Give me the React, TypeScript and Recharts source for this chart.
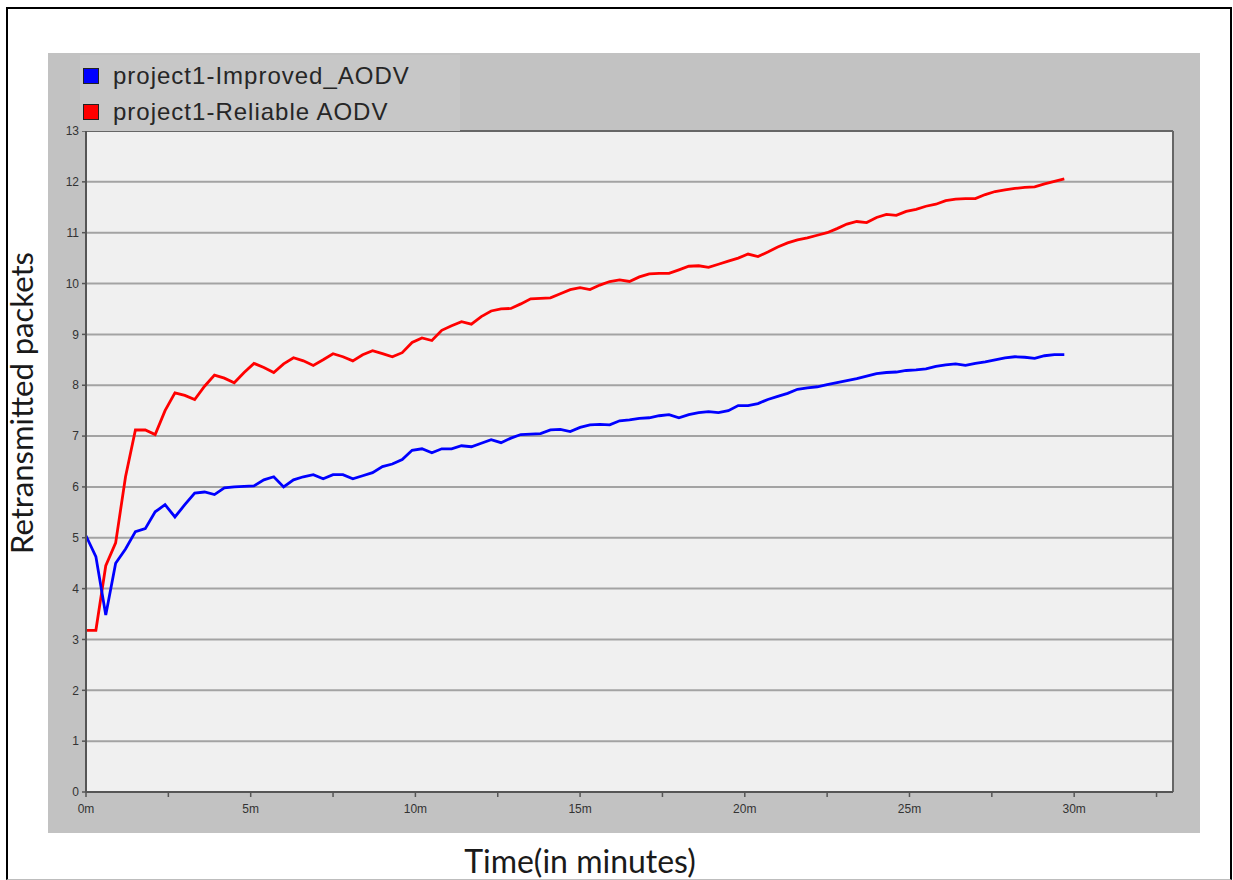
import React from 'react';
import { LineChart, Line, XAxis, YAxis, CartesianGrid, ReferenceLine } from 'recharts';

// Time in minutes
const times = [
  0, 0.3, 0.6, 0.9, 1.2, 1.5, 1.8, 2.1, 2.4, 2.7,
  3.0, 3.3, 3.6, 3.9, 4.2, 4.5, 4.8, 5.1, 5.4, 5.7,
  6.0, 6.3, 6.6, 6.9, 7.2, 7.5, 7.8, 8.1, 8.4, 8.7,
  9.0, 9.3, 9.6, 9.9, 10.2, 10.5, 10.8, 11.1, 11.4, 11.7,
  12.0, 12.3, 12.6, 12.9, 13.2, 13.5, 13.8, 14.1, 14.4, 14.7,
  15.0, 15.3, 15.6, 15.9, 16.2, 16.5, 16.8, 17.1, 17.4, 17.7,
  18.0, 18.3, 18.6, 18.9, 19.2, 19.5, 19.8, 20.1, 20.4, 20.7,
  21.0, 21.3, 21.6, 21.9, 22.2, 22.5, 22.8, 23.1, 23.4, 23.7,
  24.0, 24.3, 24.6, 24.9, 25.2, 25.5, 25.8, 26.1, 26.4, 26.7,
  27.0, 27.3, 27.6, 27.9, 28.2, 28.5, 28.8, 29.1, 29.4, 29.7,
];

const improvedAodv = [
  5.04, 4.63, 3.48, 4.5, 4.78, 5.12, 5.18, 5.51, 5.65, 5.41,
  5.65, 5.88, 5.9, 5.85, 5.98, 6.0, 6.01, 6.02, 6.14, 6.2,
  6.0, 6.14, 6.2, 6.24, 6.16, 6.24, 6.24, 6.16, 6.22, 6.28,
  6.4, 6.45, 6.54, 6.72, 6.75, 6.67, 6.75, 6.75, 6.81, 6.79,
  6.86, 6.93, 6.87, 6.96, 7.03, 7.04, 7.05, 7.12, 7.13, 7.09,
  7.17, 7.22, 7.23, 7.22, 7.3, 7.32, 7.35, 7.36, 7.4, 7.42,
  7.36, 7.42, 7.46, 7.48, 7.46, 7.5, 7.6, 7.6, 7.64, 7.72,
  7.78, 7.84, 7.92, 7.95, 7.97, 8.01, 8.05, 8.09, 8.13, 8.18,
  8.23, 8.25, 8.26, 8.29, 8.3, 8.32, 8.37, 8.4, 8.42, 8.39,
  8.43, 8.46, 8.5, 8.54, 8.56, 8.55, 8.53, 8.58, 8.6, 8.6,
];

const reliableAodv = [
  3.18, 3.18, 4.45, 4.9, 6.2, 7.12, 7.12, 7.03, 7.5, 7.85,
  7.8, 7.72, 7.98, 8.2, 8.14, 8.05, 8.25, 8.43, 8.35, 8.25,
  8.42, 8.54, 8.48, 8.39, 8.5, 8.62, 8.56, 8.48, 8.6, 8.68,
  8.62, 8.56, 8.64, 8.84, 8.93, 8.88, 9.08, 9.17, 9.25, 9.2,
  9.35, 9.46, 9.5, 9.51, 9.6, 9.7, 9.71, 9.72, 9.8, 9.88,
  9.92, 9.88, 9.97, 10.04, 10.07, 10.04, 10.13, 10.19, 10.2, 10.2,
  10.27, 10.34, 10.35, 10.32, 10.38, 10.44, 10.5, 10.58, 10.53, 10.62,
  10.72, 10.8, 10.86, 10.9, 10.95, 11.0, 11.08, 11.17, 11.22, 11.2,
  11.3, 11.36, 11.34, 11.42, 11.46, 11.52, 11.56, 11.63, 11.66, 11.67,
  11.67, 11.75, 11.81, 11.84, 11.87, 11.89, 11.9, 11.96, 12.01, 12.06,
];

const xTicks = [0, 2.5, 5, 7.5, 10, 12.5, 15, 17.5, 20, 22.5, 25, 27.5, 30, 32.5];
const yTicks = [0, 1, 2, 3, 4, 5, 6, 7, 8, 9, 10, 11, 12, 13];
const seriesNames = ['project1-Improved_AODV', 'project1-Reliable AODV'];
const seriesColors = ['#0000ff', '#ff0000'];
const xAxisTitle = 'Time(in minutes)';
const yAxisTitle = 'Retransmitted packets';

const data = times.map((t, i) => ({ t, improved: improvedAodv[i], reliable: reliableAodv[i] }));

const tickStyle = { fontFamily: '"Liberation Sans", Arial, sans-serif', fontSize: 12, fill: '#333' };
const titleFont = 'Lato, "Open Sans", sans-serif';

const XTick = (props: any) => {
  const { x, y, payload } = props;
  const v = payload.value;
  if (v % 5 !== 0) return null;
  return (
    <text x={x} y={y + 14} textAnchor="middle" style={tickStyle as any}>{`${v}m`}</text>
  );
};

export default function App() {
  return (
    <div style={{ position: 'absolute', left: 0, top: 0, width: 1233, height: 880, background: '#fff', overflow: 'hidden' }}>
      <div style={{ position: 'absolute', left: 6, top: 7, width: 1222, height: 870, borderLeft: '2px solid #000', borderTop: '2px solid #000', borderRight: '2px solid #000', borderBottom: '1px solid #bdbdbd' }} />
      <div style={{ position: 'absolute', left: 48, top: 53, width: 1152, height: 780, background: '#c2c2c2' }} />
      <div style={{ position: 'absolute', left: 0, top: 0 }}>
        <LineChart width={1233} height={880} data={data} margin={{ top: 131, right: 60, bottom: 58, left: 46 }}>
          <CartesianGrid vertical={false} fill="#f0f0f0" stroke="#a3a3a3" strokeWidth={2} />
          <XAxis
            dataKey="t"
            type="number"
            domain={[0, 33]}
            ticks={xTicks}
            interval={0}
            height={30}
            stroke="#555"
            strokeWidth={2}
            tickSize={5}
            tick={<XTick />}
            tickLine={{ stroke: '#555', strokeWidth: 1.5 }}
            label={{
              content: () => (
                <text x={580} y={873} textAnchor="middle" style={{ fontFamily: titleFont, fontSize: 32, fill: '#1a1a1a' }}>{xAxisTitle}</text>
              ),
            }}
          />
          <YAxis
            type="number"
            domain={[0, 13]}
            ticks={yTicks}
            interval={0}
            width={40}
            stroke="#555"
            strokeWidth={2}
            tickSize={4}
            tickMargin={3}
            tick={tickStyle}
            tickLine={{ stroke: '#555', strokeWidth: 1.5 }}
            label={{
              content: () => (
                <text x={33} y={403} transform="rotate(-90 33 403)" textAnchor="middle" style={{ fontFamily: titleFont, fontSize: 31, fill: '#1a1a1a' }}>{yAxisTitle}</text>
              ),
            }}
          />
          <ReferenceLine y={13} stroke="#666" strokeWidth={2} />
          <ReferenceLine x={33} stroke="#666" strokeWidth={2} />
          <Line type="linear" dataKey="reliable" name={seriesNames[1]} stroke={seriesColors[1]} strokeWidth={2.8} dot={false} isAnimationActive={false} />
          <Line type="linear" dataKey="improved" name={seriesNames[0]} stroke={seriesColors[0]} strokeWidth={2.8} dot={false} isAnimationActive={false} />
        </LineChart>
      </div>
      <div style={{ position: 'absolute', left: 80, top: 55, width: 380, height: 76, background: '#c7c7c7', fontFamily: '"Liberation Sans", Arial, sans-serif', fontSize: 24, letterSpacing: 1, color: '#262626' }}>
        {seriesNames.map((name, i) => (
          <div key={name} style={{ position: 'absolute', left: 3, top: 8, marginTop: i * 36, height: 26, display: 'flex', alignItems: 'center', whiteSpace: 'nowrap' }}>
            <span style={{ display: 'inline-block', width: 14, height: 14, background: seriesColors[i], border: '1px solid #222', marginRight: 14 }} />
            <span>{name}</span>
          </div>
        ))}
      </div>
    </div>
  );
}
